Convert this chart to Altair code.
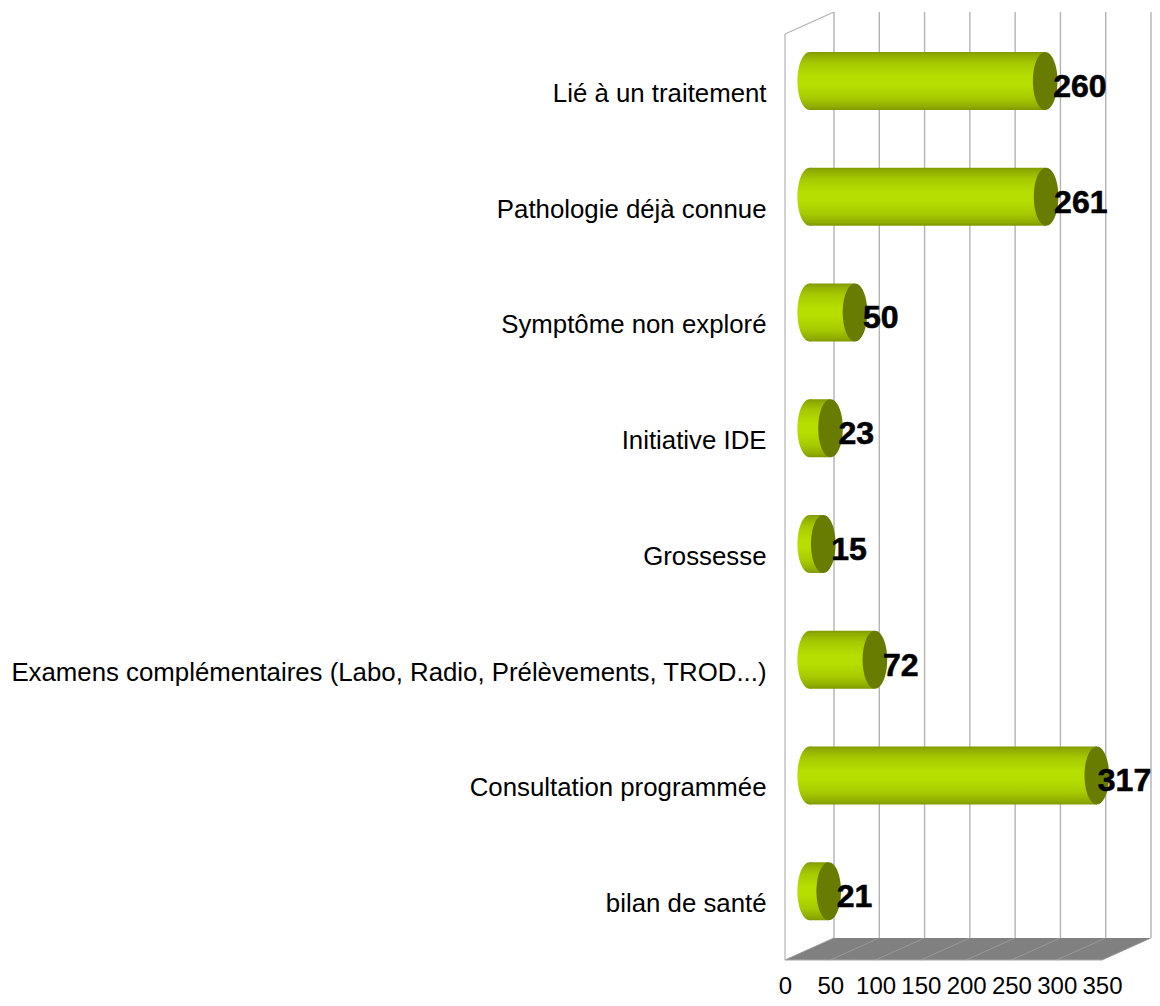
import altair as alt
import pandas as pd

categories = ["Lié à un traitement", "Pathologie déjà connue", "Symptôme non exploré", "Initiative IDE",
              "Grossesse", "Examens complémentaires (Labo, Radio, Prélèvements, TROD...)",
              "Consultation programmée", "bilan de santé"]
values = [260, 261, 50, 23, 15, 72, 317, 21]
ticks = [0, 50, 100, 150, 200, 250, 300, 350]
depth_units = 54  # depth of the 3D box, in axis units

FONT = "Liberation Sans"
W, H = 317, 926
DX, DY = 49, -22       # back wall offset
BX, BY = 24.7, -11     # bar plane offset

df = pd.DataFrame({"cat": categories, "v": values, "zero": [0] * len(values)})
tick_df = pd.DataFrame({"t": ticks, "t2": [t + depth_units for t in ticks]})
floor_df = pd.DataFrame({"d": [0, 1], "a": [0, depth_units], "b": [350, 350 + depth_units]})

xs = alt.Scale(domain=[0, 350], range=[0, W], nice=False, zero=False)
ys = alt.Scale(domain=categories, range=[0, H], paddingInner=0, paddingOuter=0)
x_axis = alt.Axis(values=ticks, grid=False, domain=False, ticks=False, labelFont=FONT, labelFontSize=24,
                  labelColor="#000000", labelPadding=14.5, labelOverlap=False, labelFlush=False,
                  labelBaseline="top", format="d", title=None)


def xq(field):
    return alt.X(field, scale=xs, title=None, axis=x_axis)


def yn():
    return alt.Y("cat:N", scale=ys, sort=categories, title=None, axis=None)


y_with_axis = alt.Y("cat:N", scale=ys, sort=categories, title=None,
                    axis=alt.Axis(domain=False, ticks=False, grid=False, labelFont=FONT, labelFontSize=25.8,
                                  labelColor="#000000", labelPadding=19, labelLimit=800, labelOffset=1.5, title=None))

GRID = "#b3b3b3"
base = alt.Chart(df)
back = alt.Chart(tick_df)

floor = alt.Chart(floor_df).mark_area(orient="horizontal", color="#808080", opacity=1).encode(
    y=alt.Y("d:Q", scale=alt.Scale(domain=[0, 1], range=[H, H + DY]), axis=None),
    x=xq("a:Q"),
    x2="b:Q",
)
floor_lines = back.mark_rule(color="#999999", strokeWidth=1).encode(
    x=xq("t:Q"), x2="t2:Q", y=alt.value(H), y2=alt.value(H + DY))
grid = back.mark_rule(color=GRID, strokeWidth=1.4, xOffset=DX).encode(
    x=xq("t:Q"), y=alt.value(DY), y2=alt.value(H + DY))
side = back.transform_filter("datum.t == 0").mark_rule(color=GRID, strokeWidth=1.2).encode(
    x=xq("t:Q"), y=alt.value(0), y2=alt.value(H))
top = back.transform_filter("datum.t == 0").mark_rule(color=GRID, strokeWidth=1.2).encode(
    x=xq("t:Q"), x2="t2:Q", y=alt.value(0), y2=alt.value(DY))
front = alt.Chart(floor_df.head(1)).mark_rule(color="#a8a8a8", strokeWidth=1).encode(
    x=xq("a:Q"), x2="b:Q", y=alt.value(H))

grad = alt.Gradient(gradient="linear", x1=0, x2=0, y1=0, y2=1, stops=[
    alt.GradientStop(offset=0, color="#7f9900"),
    alt.GradientStop(offset=0.05, color="#8dab00"),
    alt.GradientStop(offset=0.2, color="#a6ca00"),
    alt.GradientStop(offset=0.42, color="#b6de00"),
    alt.GradientStop(offset=0.58, color="#b6de00"),
    alt.GradientStop(offset=0.8, color="#a6ca00"),
    alt.GradientStop(offset=0.95, color="#8dab00"),
    alt.GradientStop(offset=1, color="#7f9900"),
])
ELL = "M0,-1C0.234,-1 0.424,-0.552 0.424,0C0.424,0.552 0.234,1 0,1C-0.234,1 -0.424,0.552 -0.424,0C-0.424,-0.552 -0.234,-1 0,-1Z"
SIZE = 58 ** 2

start = base.mark_point(shape=ELL, size=SIZE, filled=True, fill=grad, opacity=1, xOffset=BX, yOffset=BY).encode(
    x=xq("zero:Q"), y=yn())
bars = base.mark_bar(fill=grad, height=58, xOffset=BX, x2Offset=BX, yOffset=BY, y2Offset=BY).encode(
    x=xq("zero:Q"), x2="v:Q", y=yn())
cap = base.mark_point(shape=ELL, size=SIZE, filled=True, fill="#677c00", opacity=1, xOffset=BX, yOffset=BY).encode(
    x=xq("v:Q"), y=yn())
text_style = dict(font=FONT, fontSize=32, fontWeight="bold", align="left", baseline="middle", color="#000000",
                  stroke="#000000", strokeWidth=0.6, yOffset=-5)
labels = base.transform_filter("datum.v < 300").mark_text(xOffset=BX + 8, **text_style).encode(
    x=xq("v:Q"), y=yn(), text=alt.Text("v:Q"))
# the longest bar's label is nudged left so that it stays inside the page
label_max = base.transform_filter("datum.v >= 300").mark_text(xOffset=BX + 1, **text_style).encode(
    x=xq("v:Q"), y=yn(), text=alt.Text("v:Q"))

chart = alt.layer(base.mark_point(opacity=0).encode(x=xq("v:Q"), y=y_with_axis),
                  floor, floor_lines, side, top, grid, front, start, bars, cap, labels, label_max).resolve_scale(
    y="independent", x="shared"
).properties(
    width=W, height=H,
    padding={"left": 777, "top": 26, "right": 50, "bottom": 38},
    autosize=alt.AutoSizeParams(type="none"),
    background="#ffffff",
).configure_view(stroke=None)

chart.save("out.html", embed_options={"renderer": "svg", "actions": False})
